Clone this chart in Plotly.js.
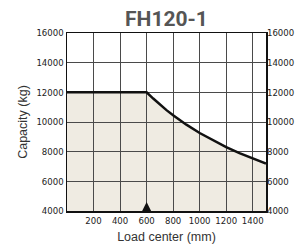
<!DOCTYPE html>
<html>
<head>
<meta charset="utf-8">
<script src="https://cdn.plot.ly/plotly-3.0.1.min.js"></script>
<style>html,body{margin:0;padding:0;background:#fff;}#chart{width:296px;height:246px;}</style>
</head>
<body>
<div id="chart"></div>
<script>
var loadCenter = [0, 600, 650, 700, 750, 800, 900, 1000, 1100, 1200, 1300, 1400, 1500];
var capacity = [12000, 12000, 11580, 11170, 10800, 10450, 9820, 9260, 8760, 8310, 7900, 7540, 7200];
var xTicks = [200, 400, 600, 800, 1000, 1200, 1400];
var yTicks = [4000, 6000, 8000, 10000, 12000, 14000, 16000];
var markerX = 600;
var titleText = "FH120-1";

var tickFont = {family: "DejaVu Sans Condensed", size: 9.5, color: "#222"};
var axisTitleFont = {family: "Liberation Sans, Arial, sans-serif", size: 12.5, color: "#333"};

var path = "M " + loadCenter[0] + "," + 0;
for (var i = 0; i < loadCenter.length; i++) path += " L " + loadCenter[i] + "," + capacity[i];
path += " L " + loadCenter[loadCenter.length - 1] + ",0 Z";

var traces = [
  {x: loadCenter, y: capacity, type: "scatter", mode: "lines",
   line: {color: "#111", width: 2.5}, hoverinfo: "skip", showlegend: false},
  {x: [loadCenter[0]], y: [capacity[0]], yaxis: "y2", type: "scatter", mode: "markers",
   marker: {opacity: 0}, showlegend: false, hoverinfo: "skip"}
];

var layout = {
  width: 296, height: 246,
  margin: {l: 67, r: 30, t: 33, b: 35},
  paper_bgcolor: "#fff", plot_bgcolor: "#fff",
  showlegend: false,
  title: {text: "<b>" + titleText + "</b>", font: {family: "Roboto", size: 21, color: "#555"},
          x: 0.5625, xanchor: "center", yref: "container", y: 0.925, yanchor: "middle"},
  xaxis: {range: [0, 1500], tickvals: xTicks, ticktext: xTicks.map(String), tickfont: tickFont, tickangle: 0,
          showgrid: true, gridcolor: "#4a4a4a", gridwidth: 1, zeroline: false,
          showline: true, linecolor: "#111", linewidth: 1.5, mirror: true, ticks: "",
          title: {text: "Load center (mm)", font: axisTitleFont, standoff: 7}},
  yaxis: {range: [4000, 16000], tickvals: yTicks, ticktext: yTicks.map(String), tickfont: tickFont,
          showgrid: true, gridcolor: "#4a4a4a", gridwidth: 1, zeroline: false,
          showline: true, linecolor: "#111", linewidth: 1.5, mirror: true, ticks: "",
          title: {text: "Capacity (kg)", font: axisTitleFont, standoff: 6}},
  yaxis2: {range: [4000, 16000], overlaying: "y", side: "right", tickvals: yTicks, ticktext: yTicks.map(String),
           tickfont: tickFont, showgrid: false, zeroline: false, showline: false, ticks: ""},
  shapes: [
    {type: "path", path: path, xref: "x", yref: "y", layer: "below", fillcolor: "#efebe2", line: {width: 0}},
    {type: "path", xref: "x", yref: "y", xsizemode: "pixel", ysizemode: "pixel", xanchor: markerX, yanchor: 4000,
     path: "M -4.5,0 L 4.5,0 L 0,9 Z", fillcolor: "#111", line: {width: 0}, layer: "above"}
  ]
};

Plotly.newPlot("chart", traces, layout, {staticPlot: true, displayModeBar: false});
</script>
</body>
</html>
